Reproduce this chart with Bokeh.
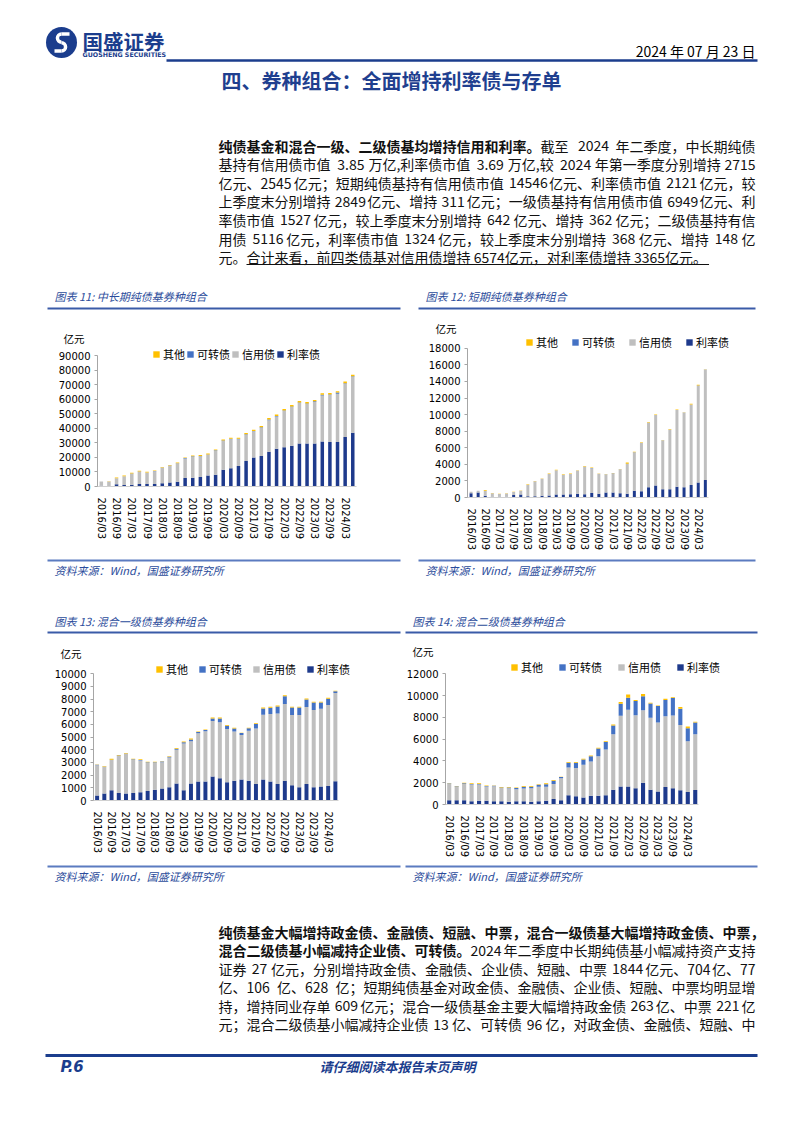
import math
from bokeh.plotting import figure
from bokeh.models import (Range1d, FixedTicker, Legend, LegendItem, Label,
                          ColumnDataSource, NumeralTickFormatter)
from bokeh.layouts import column, row
from bokeh.embed import file_html
from bokeh.resources import INLINE

# ---------------- data ----------------
quarters = ["2016/03", "2016/06", "2016/09", "2016/12", "2017/03", "2017/06", "2017/09", "2017/12",
            "2018/03", "2018/06", "2018/09", "2018/12", "2019/03", "2019/06", "2019/09", "2019/12",
            "2020/03", "2020/06", "2020/09", "2020/12", "2021/03", "2021/06", "2021/09", "2021/12",
            "2022/03", "2022/06", "2022/09", "2022/12", "2023/03", "2023/06", "2023/09", "2023/12",
            "2024/03", "2024/06"]
series = ["利率债", "信用债", "可转债", "其他"]

# 中长期纯债基
mlp_rate = [500, 400, 1500, 1000, 1200, 1800, 1800, 1800, 2200, 2800, 3300, 5800, 6000, 6500, 7500, 8000,
            11500, 12500, 14000, 17500, 20000, 21000, 23800, 26000, 27000, 28000, 29500, 29500, 29500, 31000,
            30500, 30500, 34000, 36900]
mlp_credit = [2900, 3100, 4100, 6000, 7600, 8400, 7800, 8700, 10500, 11400, 12500, 13500, 14500, 14300, 14300,
              16600, 19800, 20000, 18500, 18100, 17900, 19400, 21800, 22100, 24800, 26600, 27800, 27200, 28600,
              31600, 32300, 33200, 36600, 38500]
mlp_conv = [0, 0, 100, 100, 100, 100, 100, 100, 100, 150, 150, 200, 200, 200, 250, 250, 300, 300, 300, 300,
            300, 300, 400, 400, 400, 400, 400, 400, 400, 400, 400, 800, 400, 300]
mlp_other = [100, 100, 500, 500, 500, 500, 400, 400, 500, 500, 500, 500, 600, 600, 600, 600, 700, 700, 700, 800,
             800, 800, 1000, 1000, 1000, 1000, 1000, 900, 900, 1000, 1000, 900, 1200, 1000]

# 短期纯债基
sp_rate = [500, 600, 200, 100, 100, 100, 300, 350, 150, 150, 200, 250, 350, 350, 400, 450, 400, 550, 450, 600,
           600, 500, 450, 800, 750, 1250, 1450, 1000, 1000, 1300, 1250, 1500, 1800, 2121]
sp_credit = [200, 200, 600, 420, 320, 370, 370, 470, 1400, 1800, 2050, 2600, 2950, 2400, 2450, 2800, 3340, 2990,
             2410, 2160, 2310, 2860, 3600, 4640, 5850, 7800, 8500, 5860, 7210, 9250, 8960, 9720, 11700, 13280]
sp_conv = [0, 0, 0, 0, 0, 0, 0, 0, 0, 0, 0, 0, 0, 0, 0, 0, 10, 10, 10, 10, 10, 10, 10, 10, 10, 10, 10, 10,
           10, 10, 10, 10, 10, 10]
sp_other = [0, 0, 100, 30, 30, 30, 30, 30, 50, 50, 50, 50, 50, 50, 50, 50, 60, 60, 40, 40, 40, 40, 150, 60,
            50, 50, 50, 40, 40, 50, 40, 80, 100, 50]

# 混合一级债基
m1_rate = [400, 550, 800, 600, 550, 600, 650, 750, 850, 950, 1050, 1350, 800, 1350, 1500, 1500, 1900, 1750,
           1450, 1550, 1650, 1550, 1300, 1650, 1500, 1300, 1550, 1200, 1050, 1300, 1050, 1100, 1150, 1527]
m1_credit = [2390, 2090, 2390, 2920, 3130, 2620, 2500, 2220, 2120, 2070, 2340, 2660, 3690, 3320, 3810, 3960,
             4370, 4420, 4190, 3890, 3520, 3950, 4390, 5120, 5320, 5570, 6070, 5540, 5690, 6070, 6090, 6140,
             6390, 6949]
m1_conv = [30, 30, 30, 30, 30, 30, 50, 50, 50, 50, 60, 80, 100, 150, 100, 100, 200, 300, 250, 250, 150, 200,
           350, 500, 500, 550, 600, 600, 600, 600, 600, 500, 500, 150]
m1_other = [30, 30, 80, 50, 40, 50, 50, 30, 30, 30, 50, 60, 60, 80, 40, 40, 80, 80, 60, 60, 30, 50, 60, 80,
            80, 80, 80, 60, 60, 80, 60, 60, 60, 30]

# 混合二级债基
m2_rate = [400, 400, 400, 300, 350, 350, 300, 300, 250, 300, 300, 250, 300, 350, 500, 400, 850, 750, 650, 800,
           800, 850, 1350, 1650, 1650, 1500, 2000, 1350, 1200, 1600, 1500, 1300, 1150, 1324]
m2_credit = [1490, 1240, 1490, 1540, 1490, 1310, 1370, 1220, 1240, 1100, 1160, 1240, 1330, 1270, 1390, 2020,
             2540, 2590, 2990, 3140, 3640, 4190, 5100, 6500, 7050, 6700, 6650, 6620, 6340, 6500, 6670, 6000,
             4650, 5116]
m2_conv = [40, 40, 50, 50, 50, 50, 50, 50, 80, 120, 180, 150, 180, 250, 300, 100, 450, 500, 500, 500, 700, 700,
           800, 1100, 1100, 1300, 1300, 1300, 1500, 1500, 1600, 1500, 1200, 1100]
m2_other = [20, 20, 60, 60, 60, 40, 30, 30, 30, 30, 60, 60, 40, 80, 60, 30, 60, 60, 60, 60, 60, 60, 100, 150,
            300, 100, 200, 80, 60, 100, 80, 150, 150, 50]

# ---------------- style ----------------
CJK = "Noto Sans CJK SC"
NUM = "DejaVu Sans"
BLUE = "#1B3D8D"
CAP_BLUE = "#2B4C9B"
BAR_COLORS = ["#1E3A8C", "#BFBFBF", "#4472C4", "#FFC000"]
TXT = "#111111"
W = 786
FS = 14
LX = 218
RX = 755


def no_align(p):
    try:
        p.frame_align = False
    except Exception:
        pass


def text_panel(top, height):
    p = figure(width=W, height=height, x_range=Range1d(0, W), y_range=Range1d(top + height, top),
               output_backend="svg", toolbar_location=None, min_border=0,
               x_axis_type=None, y_axis_type=None)
    p.grid.visible = False
    p.outline_line_color = None
    no_align(p)
    return p


def put(p, x, y, s, size, color=TXT, style="normal", align="left", font=CJK):
    p.add_layout(Label(x=x, y=y, text=s, text_font=font, text_font_size=f"{size}px", text_color=color,
                       text_font_style=style, text_align=align, text_baseline="middle"))


def est_width(s, size):
    w = 0.0
    for ch in s:
        if ord(ch) > 0x2E80:
            w += 1.0
        elif ch == " ":
            w += 0.224
        elif ch in ".,:;":
            w += 0.25
        else:
            w += 0.5
    return w * size


def put_line(p, y, bold, text, justify):
    """Write one paragraph line; justified lines are spread over LX..RX at their spaces."""
    pieces = []
    if bold:
        pieces.append([bold, "bold", False])
    if text:
        for k, t in enumerate(text.split(" ")):
            pieces.append([t, "normal", k > 0])  # True: a space precedes it
    ngaps = sum(1 for pc in pieces if pc[2])
    total = sum(est_width(s, FS) for s, _, _ in pieces)
    if justify and ngaps > 0:
        gap = (RX - LX - total) / ngaps
    else:
        gap = est_width(" ", FS)
        justify = False
    x = LX
    for i, (s, st, sp) in enumerate(pieces):
        if sp:
            x += gap
        if justify and i == len(pieces) - 1:
            put(p, RX, y, s, FS, style=st, align="right")
        else:
            put(p, x, y, s, FS, style=st)
        x += est_width(s, FS)
    return x


def bar_chart(fig_left, fig_top, width, height, frame_right, ml, mt, mb, bar_px, top_tick, step, tick_px,
              rate, credit, conv, other, bar_w, legend_left, legend_mid, legend_spacing, unit_left):
    n = len(quarters)
    mr = fig_left + width - frame_right
    fw = width - ml - mr
    fh = height - mt - mb
    upp = top_tick / tick_px
    frame_left = fig_left + ml
    frame_bottom = fig_top + height - mb
    p = figure(width=width, height=height, x_range=Range1d(-0.5, -0.5 + fw / bar_px),
               y_range=Range1d(0, fh * upp), title="亿元",
               output_backend="svg", toolbar_location=None,
               min_border_left=ml, min_border_right=mr, min_border_top=mt, min_border_bottom=mb)
    no_align(p)
    p.grid.visible = False
    p.outline_line_color = None
    src = ColumnDataSource(dict(x=list(range(n)), 利率债=rate, 信用债=credit, 可转债=conv, 其他=other))
    rs = p.vbar_stack(series, x="x", width=bar_w, fill_color=BAR_COLORS, line_color=None, source=src)

    items = [LegendItem(label=s, renderers=[r]) for s, r in zip(series, rs)][::-1]
    leg = Legend(items=items, orientation="horizontal", nrows=1,
                 location=(legend_left - frame_left, frame_bottom - (legend_mid + 8)),
                 glyph_width=8, glyph_height=8, label_height=16, label_standoff=3,
                 spacing=legend_spacing, padding=0, margin=0, border_line_color=None,
                 background_fill_alpha=0, label_text_font=CJK, label_text_font_size="11px",
                 label_text_color="#000000")
    p.add_layout(leg)

    t = p.title
    t.align = "left"
    t.offset = unit_left - frame_left
    t.standoff = 0
    t.vertical_align = "bottom"
    t.text_font = CJK
    t.text_font_size = "10.5px"
    t.text_font_style = "normal"
    t.text_color = "#000000"

    ya = p.yaxis[0]
    ya.ticker = FixedTicker(ticks=list(range(0, top_tick + 1, step)))
    ya.formatter = NumeralTickFormatter(format="0")
    ya.bounds = (0, top_tick)
    ya.axis_line_color = "#A6A6A6"
    ya.major_tick_line_color = "#A6A6A6"
    ya.major_tick_out = 3
    ya.major_tick_in = 0
    ya.minor_tick_line_color = None
    ya.major_label_standoff = 4
    ya.major_label_text_font = NUM
    ya.major_label_text_font_size = "10px"
    ya.major_label_text_color = "#000000"

    xa = p.xaxis[0]
    xa.ticker = FixedTicker(ticks=list(range(0, n, 2)))
    xa.major_label_overrides = {i: quarters[i] for i in range(0, n, 2)}
    xa.major_label_orientation = -math.pi / 2
    xa.bounds = (-0.5, n - 0.5)
    xa.major_tick_line_color = None
    xa.minor_tick_line_color = None
    xa.axis_line_color = "#D0D0D0"
    xa.major_label_standoff = 5
    xa.major_label_text_font = NUM
    xa.major_label_text_font_size = "10px"
    xa.major_label_text_color = "#000000"
    return p


# ---------------- header panel (page y 0..318) ----------------
hdr = text_panel(0, 318)
hdr.circle(x=[61], y=[42], radius=15.5, fill_color=BLUE, line_color=None)
hdr.annular_wedge(x=[61], y=[37.6], inner_radius=2.4, outer_radius=5.8, start_angle=math.pi / 2,
                  end_angle=3 * math.pi / 2, fill_color="white", line_color=None)
hdr.annular_wedge(x=[61], y=[46.4], inner_radius=2.4, outer_radius=5.8, start_angle=-math.pi / 2,
                  end_angle=math.pi / 2, fill_color="white", line_color=None)
hdr.quad(left=[61, 54], right=[69, 61], top=[31.8, 48.8], bottom=[35.2, 52.2], fill_color="white",
         line_color=None)
put(hdr, 82, 40, "国盛证券", 20.5, color=BLUE, style="bold")
put(hdr, 82, 54, "GUOSHENG SECURITIES", 6.3, color=BLUE, style="bold", font=NUM)
put(hdr, 755, 50, "2024 年 07 月 23 日", 14, color="#000000", align="right")
hdr.segment(x0=[166], y0=[60], x1=[757], y1=[60], line_color=BLUE, line_width=2.5)
put(hdr, 391, 80, "四、券种组合：全面增持利率债与存单", 20, color="#1F3F8F", style="bold", align="center")

para1_bold = ["纯债基金和混合一级、二级债基均增持信用和利率。", "", "", "", "", "", ""]
para1_text = ["截至 2024 年二季度，中长期纯债",
              "基持有信用债市值 3.85 万亿,利率债市值 3.69 万亿,较 2024 年第一季度分别增持 2715",
              "亿元、2545 亿元；短期纯债基持有信用债市值 14546 亿元、利率债市值 2121 亿元，较",
              "上季度末分别增持 2849 亿元、增持 311 亿元；一级债基持有信用债市值 6949 亿元、利",
              "率债市值 1527 亿元，较上季度末分别增持 642 亿元、增持 362 亿元；二级债基持有信",
              "用债 5116 亿元，利率债市值 1324 亿元，较上季度末分别增持 368 亿元、增持 148 亿",
              "元。合计来看，前四类债基对信用债增持 6574 亿元，对利率债增持 3365 亿元。"]
end_x = LX
for i, (b, t) in enumerate(zip(para1_bold, para1_text)):
    end_x = put_line(hdr, 145 + i * 18.6, b, t, justify=(i < len(para1_text) - 1))
u0 = LX + est_width("元。", FS)
hdr.segment(x0=[u0], y0=[264], x1=[end_x + 2], y1=[264], line_color="#111111", line_width=1)

put(hdr, 54, 295, "图表 11: 中长期纯债基券种组合", 11, color=CAP_BLUE, style="italic")
put(hdr, 425, 295, "图表 12: 短期纯债基券种组合", 11, color=CAP_BLUE, style="italic")
hdr.segment(x0=[47, 418], y0=[308, 308], x1=[400, 755], y1=[308, 308], line_color="#3A5BA8", line_width=2)

# ---------------- chart row 1 (page y 318..556) ----------------
c11 = bar_chart(0, 318, 413, 238, 356, 97, 27, 70, 7.62, 90000, 10000, 131,
                mlp_rate, mlp_credit, mlp_conv, mlp_other, 0.46, 152, 354, 1, 63)
c12 = bar_chart(413, 318, 373, 238, 733, 54, 15, 59, 7.1, 18000, 2000, 151,
                sp_rate, sp_credit, sp_conv, sp_other, 0.42, 525, 342, 13, 435)

# ---------------- middle panel (page y 556..636) ----------------
mid = text_panel(556, 80)
mid.segment(x0=[47, 418], y0=[560, 560], x1=[400, 755], y1=[560, 560], line_color="#5B7BC0", line_width=2)
put(mid, 54, 569, "资料来源：Wind，国盛证券研究所", 11, color=CAP_BLUE, style="italic")
put(mid, 425, 569, "资料来源：Wind，国盛证券研究所", 11, color=CAP_BLUE, style="italic")
put(mid, 54, 620, "图表 13: 混合一级债基券种组合", 11, color=CAP_BLUE, style="italic")
put(mid, 412, 620, "图表 14: 混合二级债基券种组合", 11, color=CAP_BLUE, style="italic")
mid.segment(x0=[47, 405], y0=[632, 632], x1=[400, 757], y1=[632, 632], line_color="#3A5BA8", line_width=2)

# ---------------- chart row 2 (page y 636..864) ----------------
c13 = bar_chart(0, 636, 400, 228, 355, 93, 24, 64, 7.22, 10000, 1000, 126.7,
                m1_rate, m1_credit, m1_conv, m1_other, 0.55, 155, 669, 10, 60)
c14 = bar_chart(400, 636, 386, 228, 725, 45, 22, 60, 7.455, 12000, 2000, 130.7,
                m2_rate, m2_credit, m2_conv, m2_other, 0.55, 510, 667, 15, 412)

# ---------------- bottom panel (page y 864..1116) ----------------
bot = text_panel(864, 252)
bot.segment(x0=[47, 405], y0=[866, 866], x1=[400, 757], y1=[866, 866], line_color="#5B7BC0", line_width=2)
put(bot, 54, 875, "资料来源：Wind，国盛证券研究所", 11, color=CAP_BLUE, style="italic")
put(bot, 412, 875, "资料来源：Wind，国盛证券研究所", 11, color=CAP_BLUE, style="italic")

para2_bold = ["纯债基金大幅增持政金债、金融债、短融、中票，混合一级债基大幅增持政金债、中票，",
              "混合二级债基小幅减持企业债、可转债。", "", "", "", ""]
para2_text = ["",
              "2024 年二季度中长期纯债基小幅减持资产支持",
              "证券 27 亿元，分别增持政金债、金融债、企业债、短融、中票 1844 亿元、704 亿、77",
              "亿、106 亿、628 亿；短期纯债基金对政金债、金融债、企业债、短融、中票均明显增",
              "持，增持同业存单 609 亿元；混合一级债基金主要大幅增持政金债 263 亿、中票 221 亿",
              "元；混合二级债基小幅减持企业债 13 亿、可转债 96 亿，对政金债、金融债、短融、中"]
for i, (b, t) in enumerate(zip(para2_bold, para2_text)):
    put_line(bot, 931 + i * 18.5, b, t, justify=True)

bot.segment(x0=[45], y0=[1055], x1=[757], y1=[1055], line_color=BLUE, line_width=3)
put(bot, 60, 1066, "P.6", 15, color=BLUE, style="bold italic", font=NUM)
put(bot, 397, 1066, "请仔细阅读本报告末页声明", 13, color=BLUE, style="bold italic", align="center")

layout = column(hdr, row(c11, c12), mid, row(c13, c14), bot)

with open("out.html", "w") as f:
    f.write(file_html(layout, INLINE))
